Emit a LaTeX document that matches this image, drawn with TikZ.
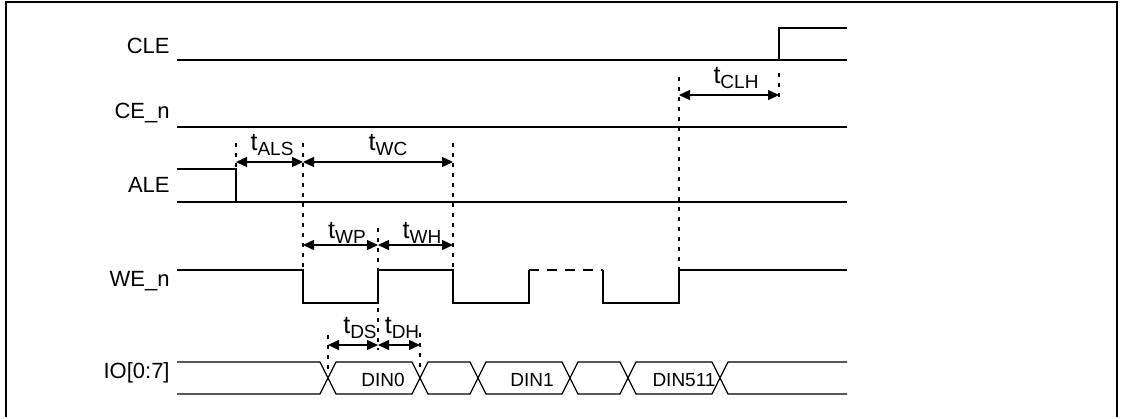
\documentclass[tikz,border=0pt]{standalone}
\usepackage{fontspec}
\setmainfont{Liberation Sans}
\usetikzlibrary{arrows.meta}

\newcommand{\tdim}[1]{{\fontsize{12.5}{12}\selectfont t}\raisebox{-2.2pt}{\fontsize{9.5}{9.5}\selectfont #1}}

\tikzset{
    signame/.style={anchor=east,inner sep=0pt,font=\fontsize{11}{13}\selectfont},
    wave/.style={line width=0.8pt},
    bus/.style={line width=0.65pt},
    guide/.style={line width=0.6pt,dash pattern=on 2pt off 3pt},
    dim/.style={line width=0.7pt,{Triangle[length=5.5pt,width=5pt]}-{Triangle[length=5.5pt,width=5pt]}},
    dimlabel/.style={inner sep=0pt},
    datalabel/.style={inner sep=0pt,font=\fontsize{9.5}{11}\selectfont}
}

\begin{document}
\begin{tikzpicture}[x=0.5pt,y=-0.5pt]
        \useasboundingbox (0,0) rectangle (1124,418);
        \draw[line width=1pt] (6,417) -- (6,2) -- (1117,2) -- (1117,417);

        \node[signame] (cle) at (170,46) {CLE};
        \node[signame] (cen) at (170,113) {CE\_n};
        \node[signame] (ale) at (170,185) {ALE};
        \node[signame] (wen) at (170,281) {WE\_n};
        \node[signame] (io) at (170,373) {IO[0:7]};

        \draw[wave] (177,60) -- (847,60);
        \draw[wave] (779,60) |- (847,28);
        \draw[wave] (177,127) -- (847,127);
        \draw[wave] (177,169) -| (236,202);
        \draw[wave] (177,202) -- (847,202);
        \draw[wave] (177,270) -| (303,303) -| (378,270) -| (453,303) -| (529,270);
        \draw[wave,dash pattern=on 5pt off 4pt] (529,270) -- (603,270);
        \draw[wave] (603,270) |- (679,303) |- (847,270);

        \draw[bus] (177,362) -- (320,362) -- (328,378) -- (320,394) -- (177,394);
        \foreach \a/\b in {328/420,420/478,478/570,570/628,628/720}
            \draw[bus] (\a,378) -- (\a+8,362) -- (\b-8,362) -- (\b,378) -- (\b-8,394) -- (\a+8,394) -- cycle;
        \draw[bus] (847,362) -- (728,362) -- (720,378) -- (728,394) -- (847,394);

        \node[datalabel] (din0) at (383,380) {DIN0};
        \node[datalabel] (din1) at (532,380) {DIN1};
        \node[datalabel] (din511) at (684,380) {DIN511};

        \draw[guide] (236,143) -- (236,169);
        \draw[guide] (303,143) -- (303,270);
        \draw[guide] (453,143) -- (453,270);
        \draw[guide] (378,228) -- (378,350);
        \draw[guide] (328,335) -- (328,372);
        \draw[guide] (420,333) -- (420,372);
        \draw[guide] (679,77) -- (679,270);
        \draw[guide] (779,73) -- (779,103);

        \coordinate (als1) at (236,162);
        \coordinate (als2) at (303,162);
        \coordinate (wc2) at (453,162);
        \coordinate (clh1) at (679,95);
        \coordinate (clh2) at (779,95);
        \coordinate (wp1) at (303,245);
        \coordinate (wp2) at (378,245);
        \coordinate (wh2) at (453,245);
        \coordinate (ds1) at (328,345);
        \coordinate (ds2) at (378,345);
        \coordinate (dh2) at (420,345);

        \draw[dim] (als1) -- (als2);
        \draw[dim] (als2) -- (wc2);
        \draw[dim] (clh1) -- (clh2);
        \draw[dim] (wp1) -- (wp2);
        \draw[dim] (wp2) -- (wh2);
        \draw[dim] (ds1) -- (ds2);
        \draw[dim] (ds2) -- (dh2);

        \node[dimlabel] (tals) at (272,145) {\tdim{ALS}};
        \node[dimlabel] (twc) at (388,145) {\tdim{WC}};
        \node[dimlabel] (tclh) at (736,78) {\tdim{CLH}};
        \node[dimlabel] (twp) at (347,233) {\tdim{WP}};
        \node[dimlabel] (twh) at (422,233) {\tdim{WH}};
        \node[dimlabel] (tds) at (360,328) {\tdim{DS}};
        \node[dimlabel] (tdh) at (402,328) {\tdim{DH}};
\end{tikzpicture}
\end{document}
